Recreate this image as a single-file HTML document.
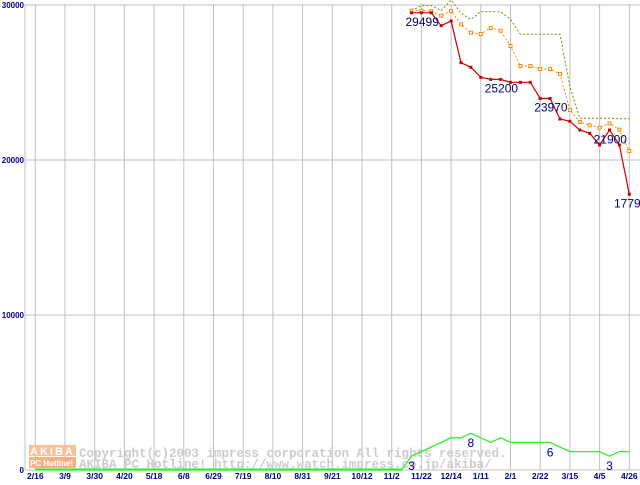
<!DOCTYPE html>
<html><head><meta charset="utf-8"><style>
body{margin:0;background:#fff;}
svg text{font-family:"Liberation Sans",sans-serif;}
</style></head><body>
<svg id="chart" width="640" height="480" xmlns="http://www.w3.org/2000/svg">
<g id="grid"></g>
<g id="watermark">
  <rect x="29" y="445" width="47" height="11" fill="#f8c098"/>
  <rect x="29" y="457" width="47" height="11" fill="#f8b080"/>
  <text x="30" y="455" font-size="11" font-weight="bold" fill="#fff" letter-spacing="2">AKIBA</text>
  <text x="30" y="466" font-size="8" font-weight="bold" fill="#fff">PC Hotline!</text>
  <text x="79" y="457" font-size="12.5" font-weight="bold" fill="#cccccc" style="font-family:'Liberation Mono',monospace">Copyright(c)2003 impress corporation All rights reserved.</text>
  <text x="79" y="468" font-size="12.5" font-weight="bold" fill="#cccccc" style="font-family:'Liberation Mono',monospace">AKIBA PC Hotline!  http://www.watch.impress.co.jp/akiba/</text>
</g>
<g id="series"></g>
</svg>
<script>
const xTickLabels=["2/16","3/9","3/30","4/20","5/18","6/8","6/29","7/19","8/10","8/31","9/21","10/12","11/2","11/22","12/14","1/11","2/1","2/22","3/15","4/5","4/26"];
const yTickValues=[0,10000,20000,30000];
const priceStart=38;
const priceMin=[29499,29499,29499,28665,28968,26280,25980,25335,25200,25200,25010,25010,25010,23970,23970,22645,22495,21935,21720,20970,21935,20970,17790];
const priceAvg=[29636,29636,29600,29312,29613,28753,28215,28129,28516,28344,27355,26064,26064,25871,25871,25548,23226,22452,22237,22086,22366,21957,20581];
const priceMax=[29636,29963,29963,29636,30328,29462,29075,29570,29570,29570,29075,28108,28108,28108,28108,28108,24731,22688,22688,22688,22688,22667,22667];
const shopCount=[0,0,0,0,0,0,0,0,0,0,0,0,0,0,0,0,0,0,0,0,0,0,0,0,0,0,0,0,0,0,0,0,0,0,0,0,0,0,3,4,5,6,7,7,8,7,6,7,6,6,6,6,6,5,4,4,4,4,3,4,4];
const priceLabels=[[38,29499],[46,25200],[51,23970],[57,21900],[60,17790]];
const countLabels=[[38,3],[44,8],[52,6],[58,3]];

const NS="http://www.w3.org/2000/svg";
const X0=35.3, WK=9.9;
const xw=i=>X0+i*WK;
const yp=v=>470-v*155/10000;
const yc=v=>470-v*4.6;
function mk(tag,attrs,parent){const e=document.createElementNS(NS,tag);for(const k in attrs)e.setAttribute(k,attrs[k]);parent.appendChild(e);return e;}
const grid=document.getElementById('grid'), ser=document.getElementById('series');

mk('line',{x1:25,y1:4,x2:25,y2:470,stroke:'#c0c0c0'},grid);
yTickValues.forEach(v=>{
  const l=mk('line',{x1:25,y1:yp(v),x2:640,y2:yp(v),stroke:'#c0c0c0'},grid);
  
  
  const t=mk('text',{x:24,y:yp(v)+3,'text-anchor':'end','font-size':8,'font-weight':'bold',fill:'#000080'},grid);
  t.textContent=String(v);
  
  
});
xTickLabels.forEach((s,k)=>{
  const x=X0+k*3*WK;
  const l=mk('line',{x1:x,y1:4,x2:x,y2:470,stroke:'#c0c0c0'},grid);
  
  
  const t=mk('text',{x:x,y:479,'text-anchor':'middle','font-size':8.5,'font-weight':'bold',fill:'#000080'},grid);
  t.textContent=s;
  
  
});

function pts(arr,start,yf){return arr.map((v,i)=>xw(start+i).toFixed(1)+','+yf(v).toFixed(1)).join(' ');}
const gl=mk('polyline',{points:pts(shopCount,0,yc),fill:'none',stroke:'#33ee33','stroke-width':1.3},ser);


const bl=mk('line',{x1:xw(0),y1:469.5,x2:xw(37),y2:469.5,stroke:'#22ee22','stroke-width':2},ser);


const ol=mk('polyline',{points:pts(priceMax,priceStart,yp),fill:'none',stroke:'#888800','stroke-width':1,'stroke-dasharray':'2,2'},ser);


const al=mk('polyline',{points:pts(priceAvg,priceStart,yp),fill:'none',stroke:'#ff8800','stroke-width':1,'stroke-dasharray':'2,2'},ser);


priceAvg.forEach((v,i)=>{
  const r=mk('rect',{x:xw(priceStart+i)-1.5,y:yp(v)-1.5,width:3,height:3,fill:'#fff',stroke:'#ff8800','stroke-width':1},ser);
  
  
});
const rl=mk('polyline',{points:pts(priceMin,priceStart,yp),fill:'none',stroke:'#cc0000','stroke-width':1.2},ser);


priceMin.forEach((v,i)=>{
  const r=mk('rect',{x:xw(priceStart+i)-1.5,y:yp(v)-1.5,width:3,height:3,fill:'#cc0000'},ser);
  
  
});
priceLabels.forEach(([i,v])=>{
  const t=mk('text',{x:Math.min(xw(i)-6,614),y:yp(v)+13,'font-size':12,fill:'#000080'},ser);
  t.textContent=String(v);
  
  
});
countLabels.forEach(([i,v])=>{
  const t=mk('text',{x:xw(i),y:yc(v)+14,'font-size':12,'text-anchor':'middle',fill:'#000080'},ser);
  t.textContent=String(v);
  
  
});
</script>
</body></html>
